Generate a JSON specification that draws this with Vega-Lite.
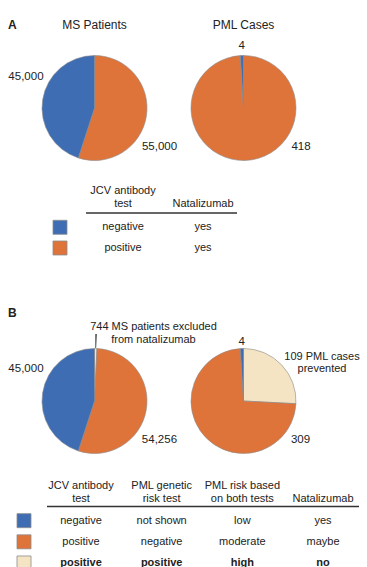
{
  "$schema": "https://vega.github.io/schema/vega-lite/v6.json",
  "padding": 0,
  "background": "white",
  "config": {
    "view": {"stroke": null},
    "text": {"font": "Liberation Sans", "color": "#222"}
  },
  "datasets": {
    "panelA": [{"panel": "A", "part": "title"}],
    "panelB": [{"panel": "B", "part": "title"}],
    "pieA1": [
      {"pie": "MS Patients", "part": "pie", "cat": "positive", "value": 55000, "label": "55,000", "order": 2},
      {"pie": "MS Patients", "part": "pie", "cat": "negative", "value": 45000, "label": "45,000", "order": 3}
    ],
    "pieA2": [
      {"pie": "PML Cases", "part": "pie", "cat": "positive", "value": 418, "label": "418", "order": 2},
      {"pie": "PML Cases", "part": "pie", "cat": "negative", "value": 4, "label": "4", "order": 3}
    ],
    "titlesA": [
      {"pie": "MS Patients", "part": "title"},
      {"pie": "PML Cases", "part": "title"}
    ],
    "pieB1": [
      {"pie": "MS Patients", "part": "pie", "cat": "high", "value": 744, "label": "744 MS patients excluded\nfrom natalizumab", "order": 1},
      {"pie": "MS Patients", "part": "pie", "cat": "positive", "value": 54256, "label": "54,256", "order": 2},
      {"pie": "MS Patients", "part": "pie", "cat": "negative", "value": 45000, "label": "45,000", "order": 3}
    ],
    "pieB2": [
      {"pie": "PML Cases", "part": "pie", "cat": "high", "value": 109, "label": "109 PML cases\nprevented", "order": 1},
      {"pie": "PML Cases", "part": "pie", "cat": "positive", "value": 309, "label": "309", "order": 2},
      {"pie": "PML Cases", "part": "pie", "cat": "negative", "value": 4, "label": "4", "order": 3}
    ],
    "tableA": [
      {"row": "h", "col": "JCV", "text": "JCV antibody\ntest"},
      {"row": "h", "col": "Nat", "text": "\nNatalizumab"},
      {"row": "r1", "col": "JCV", "text": "negative"},
      {"row": "r1", "col": "Nat", "text": "yes"},
      {"row": "r2", "col": "JCV", "text": "positive"},
      {"row": "r2", "col": "Nat", "text": "yes"}
    ],
    "ruleA": [{"row": "h", "from": "JCV", "to": "Nat"}],
    "swA": [
      {"row": "r1", "col": "swatch", "cat": "negative"},
      {"row": "r2", "col": "swatch", "cat": "positive"}
    ],
    "tableB": [
      {"row": "h", "col": "JCV", "text": "JCV antibody\ntest", "bold": false},
      {"row": "h", "col": "Gen", "text": "PML genetic\nrisk test", "bold": false},
      {"row": "h", "col": "Risk", "text": "PML risk based\non both tests", "bold": false},
      {"row": "h", "col": "Nat", "text": "\nNatalizumab", "bold": false},
      {"row": "r1", "col": "JCV", "text": "negative", "bold": false},
      {"row": "r1", "col": "Gen", "text": "not shown", "bold": false},
      {"row": "r1", "col": "Risk", "text": "low", "bold": false},
      {"row": "r1", "col": "Nat", "text": "yes", "bold": false},
      {"row": "r2", "col": "JCV", "text": "positive", "bold": false},
      {"row": "r2", "col": "Gen", "text": "negative", "bold": false},
      {"row": "r2", "col": "Risk", "text": "moderate", "bold": false},
      {"row": "r2", "col": "Nat", "text": "maybe", "bold": false},
      {"row": "r3", "col": "JCV", "text": "positive", "bold": true},
      {"row": "r3", "col": "Gen", "text": "positive", "bold": true},
      {"row": "r3", "col": "Risk", "text": "high", "bold": true},
      {"row": "r3", "col": "Nat", "text": "no", "bold": true}
    ],
    "ruleB": [{"row": "h", "from": "JCV", "to": "Nat"}],
    "swB": [
      {"row": "r1", "col": "swatch", "cat": "negative"},
      {"row": "r2", "col": "swatch", "cat": "positive"},
      {"row": "r3", "col": "swatch", "cat": "high"}
    ]
  },
  "spacing": 0,
  "bounds": "flush",
  "vconcat": [
    {
      "width": 367, "height": 175,
      "resolve": {"scale": {"x": "independent"}},
      "layer": [
        {
          "data": {"name": "panelA"},
          "mark": {"type": "text", "align": "left", "baseline": "alphabetic", "fontSize": 12, "fontWeight": "bold"},
          "encoding": {
            "x": {"field": "panel", "type": "nominal", "scale": {"type": "point", "domain": ["A"], "align": 0.0218}, "axis": null},
            "y": {"field": "part", "type": "nominal", "scale": {"type": "point", "domain": ["title", "pie"], "padding": 0.6076, "align": 0.2396}, "axis": null},
            "text": {"field": "panel", "type": "nominal"}
          }
        },
        {
          "data": {"name": "pieA1"},
          "encoding": {
            "x": {"field": "pie", "type": "nominal", "scale": {"type": "point", "domain": ["MS Patients", "PML Cases"], "padding": 0.7315, "align": 0.4335}, "axis": null},
            "y": {"field": "part", "type": "nominal", "scale": {"type": "point", "domain": ["title", "pie"], "padding": 0.6076, "align": 0.2396}, "axis": null},
            "theta": {"field": "value", "type": "quantitative", "stack": "normalize"},
            "order": {"field": "order", "type": "quantitative"},
            "detail": {"field": "cat", "type": "nominal"}
          },
          "layer": [
            {"mark": {"type": "arc", "radius": 52.5, "stroke": "#8c8c8c", "strokeWidth": 0.6},
             "encoding": {"color": {"field": "cat", "type": "nominal", "scale": {"domain": ["negative", "positive", "high"], "range": ["#3e6db4", "#df743a", "#f5e4c3"]}, "legend": null}}},
            {"mark": {"type": "text", "radius": 70, "dx": 0.6, "dy": -20.2, "fontSize": 11.5},
             "encoding": {"text": {"condition": {"test": "datum.cat === 'negative'", "field": "label", "type": "nominal"}, "value": ""}}},
            {"mark": {"type": "text", "radius": 70, "dx": -4.1, "dy": 28.2, "fontSize": 11.5},
             "encoding": {"text": {"condition": {"test": "datum.cat === 'positive'", "field": "label", "type": "nominal"}, "value": ""}}}
          ]
        },
        {
          "data": {"name": "pieA2"},
          "encoding": {
            "x": {"field": "pie", "type": "nominal", "scale": {"type": "point", "domain": ["MS Patients", "PML Cases"], "padding": 0.7315, "align": 0.4335}, "axis": null},
            "y": {"field": "part", "type": "nominal", "scale": {"type": "point", "domain": ["title", "pie"], "padding": 0.6076, "align": 0.2396}, "axis": null},
            "theta": {"field": "value", "type": "quantitative", "stack": "normalize"},
            "order": {"field": "order", "type": "quantitative"},
            "detail": {"field": "cat", "type": "nominal"}
          },
          "layer": [
            {"mark": {"type": "arc", "radius": 52.5, "stroke": "#8c8c8c", "strokeWidth": 0.6},
             "encoding": {"color": {"field": "cat", "type": "nominal", "scale": {"domain": ["negative", "positive", "high"], "range": ["#3e6db4", "#df743a", "#f5e4c3"]}, "legend": null}}},
            {"mark": {"type": "text", "radius": 63.5, "dx": 0, "dy": 1, "fontSize": 11.5},
             "encoding": {"text": {"condition": {"test": "datum.cat === 'negative'", "field": "label", "type": "nominal"}, "value": ""}}},
            {"mark": {"type": "text", "radius": 70, "dx": 55.4, "dy": -31.1, "fontSize": 11.5},
             "encoding": {"text": {"condition": {"test": "datum.cat === 'positive'", "field": "label", "type": "nominal"}, "value": ""}}}
          ]
        },
        {
          "data": {"name": "titlesA"},
          "mark": {"type": "text", "baseline": "alphabetic", "fontSize": 12},
          "encoding": {
            "x": {"field": "pie", "type": "nominal", "scale": {"type": "point", "domain": ["MS Patients", "PML Cases"], "padding": 0.7315, "align": 0.4335}, "axis": null},
            "y": {"field": "part", "type": "nominal", "scale": {"type": "point", "domain": ["title", "pie"], "padding": 0.6076, "align": 0.2396}, "axis": null},
            "text": {"field": "pie", "type": "nominal"}
          }
        }
      ]
    },
    {
      "width": 367, "height": 103.5,
      "resolve": {"scale": {"x": "independent"}},
      "layer": [
        {
          "data": {"name": "swA"},
          "mark": {"type": "square", "size": 196, "filled": true, "opacity": 1, "stroke": "#8c8c8c", "strokeWidth": 0.8},
          "encoding": {
            "x": {"field": "col", "type": "nominal", "scale": {"type": "point", "domain": ["swatch"], "align": 0.1635}, "axis": null},
            "y": {"field": "row", "type": "nominal", "scale": {"type": "band", "domain": ["h", "r1", "r2"], "paddingInner": 0, "paddingOuter": 1, "align": 0.368}, "axis": null},
            "color": {"field": "cat", "type": "nominal", "scale": {"domain": ["negative", "positive", "high"], "range": ["#3e6db4", "#df743a", "#f5e4c3"]}, "legend": null}
          }
        },
        {
          "data": {"name": "ruleA"},
          "mark": {"type": "rule", "color": "#333", "strokeWidth": 1.3, "xOffset": -37, "x2Offset": 34},
          "encoding": {
            "x": {"field": "from", "type": "nominal", "scale": {"type": "point", "domain": ["JCV", "Nat", "_a", "_b"], "padding": 0.794, "align": 0.9685}, "axis": null},
            "x2": {"field": "to"},
            "y": {"field": "row", "type": "nominal", "bandPosition": 0.81, "scale": {"type": "band", "domain": ["h", "r1", "r2"], "paddingInner": 0, "paddingOuter": 1, "align": 0.368}, "axis": null}
          }
        },
        {
          "data": {"name": "tableA"},
          "transform": [{"filter": "datum.row === 'h'"}],
          "mark": {"type": "text", "baseline": "alphabetic", "lineBreak": "\n", "lineHeight": 13, "fontSize": 11},
          "encoding": {
            "x": {"field": "col", "type": "nominal", "scale": {"type": "point", "domain": ["JCV", "Nat", "_a", "_b"], "padding": 0.794, "align": 0.9685}, "axis": null},
            "y": {"field": "row", "type": "nominal", "bandPosition": -0.085, "scale": {"type": "band", "domain": ["h", "r1", "r2"], "paddingInner": 0, "paddingOuter": 1, "align": 0.368}, "axis": null},
            "text": {"field": "text", "type": "nominal"}
          }
        },
        {
          "data": {"name": "tableA"},
          "transform": [{"filter": "datum.row !== 'h'"}],
          "mark": {"type": "text", "baseline": "middle", "fontSize": 11},
          "encoding": {
            "x": {"field": "col", "type": "nominal", "scale": {"type": "point", "domain": ["JCV", "Nat", "_a", "_b"], "padding": 0.794, "align": 0.9685}, "axis": null},
            "y": {"field": "row", "type": "nominal", "bandPosition": 0.5, "scale": {"type": "band", "domain": ["h", "r1", "r2"], "paddingInner": 0, "paddingOuter": 1, "align": 0.368}, "axis": null},
            "text": {"field": "text", "type": "nominal"}
          }
        }
      ]
    },
    {
      "width": 367, "height": 191.5,
      "resolve": {"scale": {"x": "independent"}},
      "layer": [
        {
          "data": {"name": "panelB"},
          "mark": {"type": "text", "align": "left", "baseline": "alphabetic", "fontSize": 12, "fontWeight": "bold"},
          "encoding": {
            "x": {"field": "panel", "type": "nominal", "scale": {"type": "point", "domain": ["B"], "align": 0.0218}, "axis": null},
            "y": {"field": "part", "type": "nominal", "scale": {"type": "point", "domain": ["title", "pie"], "padding": 0.6467, "align": 0.3009}, "axis": null},
            "text": {"field": "panel", "type": "nominal"}
          }
        },
        {
          "data": {"name": "pieB1"},
          "encoding": {
            "x": {"field": "pie", "type": "nominal", "scale": {"type": "point", "domain": ["MS Patients", "PML Cases"], "padding": 0.7315, "align": 0.4335}, "axis": null},
            "y": {"field": "part", "type": "nominal", "scale": {"type": "point", "domain": ["title", "pie"], "padding": 0.6467, "align": 0.3009}, "axis": null},
            "theta": {"field": "value", "type": "quantitative", "stack": "normalize"},
            "order": {"field": "order", "type": "quantitative"},
            "detail": {"field": "cat", "type": "nominal"}
          },
          "layer": [
            {"mark": {"type": "arc", "radius": 52.5, "stroke": "#8c8c8c", "strokeWidth": 0.6},
             "encoding": {"color": {"field": "cat", "type": "nominal", "scale": {"domain": ["negative", "positive", "high"], "range": ["#3e6db4", "#df743a", "#f5e4c3"]}, "legend": null}}},
            {"mark": {"type": "arc", "radius": 67, "radius2": 53, "padAngle": 0.02, "strokeWidth": 0},
             "encoding": {"color": {"condition": {"test": "datum.cat === 'high'", "value": "#333333"}, "value": "transparent"}}},
            {"mark": {"type": "text", "radius": 70, "dx": 0.6, "dy": -20.6, "fontSize": 11.5},
             "encoding": {"text": {"condition": {"test": "datum.cat === 'negative'", "field": "label", "type": "nominal"}, "value": ""}}},
            {"mark": {"type": "text", "radius": 70, "dx": -3.9, "dy": 26.8, "fontSize": 11.5},
             "encoding": {"text": {"condition": {"test": "datum.cat === 'positive'", "field": "label", "type": "nominal"}, "value": ""}}},
            {"mark": {"type": "text", "radius": 71, "dx": 57.3, "dy": -0.5, "fontSize": 11, "baseline": "alphabetic", "lineBreak": "\n", "lineHeight": 13.4},
             "encoding": {"text": {"condition": {"test": "datum.cat === 'high'", "field": "label", "type": "nominal"}, "value": ""}}}
          ]
        },
        {
          "data": {"name": "pieB2"},
          "encoding": {
            "x": {"field": "pie", "type": "nominal", "scale": {"type": "point", "domain": ["MS Patients", "PML Cases"], "padding": 0.7315, "align": 0.4335}, "axis": null},
            "y": {"field": "part", "type": "nominal", "scale": {"type": "point", "domain": ["title", "pie"], "padding": 0.6467, "align": 0.3009}, "axis": null},
            "theta": {"field": "value", "type": "quantitative", "stack": "normalize"},
            "order": {"field": "order", "type": "quantitative"},
            "detail": {"field": "cat", "type": "nominal"}
          },
          "layer": [
            {"mark": {"type": "arc", "radius": 52.5, "stroke": "#8c8c8c", "strokeWidth": 0.6},
             "encoding": {"color": {"field": "cat", "type": "nominal", "scale": {"domain": ["negative", "positive", "high"], "range": ["#3e6db4", "#df743a", "#f5e4c3"]}, "legend": null}}},
            {"mark": {"type": "text", "radius": 60, "dx": 0, "dy": 0.9, "fontSize": 11.5},
             "encoding": {"text": {"condition": {"test": "datum.cat === 'negative'", "field": "label", "type": "nominal"}, "value": ""}}},
            {"mark": {"type": "text", "radius": 70, "dx": 106.3, "dy": -10.3, "fontSize": 11.5},
             "encoding": {"text": {"condition": {"test": "datum.cat === 'positive'", "field": "label", "type": "nominal"}, "value": ""}}},
            {"mark": {"type": "text", "radius": 80, "dx": 20.5, "dy": 14.5, "fontSize": 11, "baseline": "alphabetic", "lineBreak": "\n", "lineHeight": 12},
             "encoding": {"text": {"condition": {"test": "datum.cat === 'high'", "field": "label", "type": "nominal"}, "value": ""}}}
          ]
        }
      ]
    },
    {
      "width": 367, "height": 97,
      "resolve": {"scale": {"x": "independent"}},
      "layer": [
        {
          "data": {"name": "swB"},
          "mark": {"type": "square", "size": 196, "filled": true, "opacity": 1, "stroke": "#8c8c8c", "strokeWidth": 0.8},
          "encoding": {
            "x": {"field": "col", "type": "nominal", "scale": {"type": "point", "domain": ["swatch"], "align": 0.0654}, "axis": null},
            "y": {"field": "row", "type": "nominal", "scale": {"type": "band", "domain": ["h", "r1", "r2", "r3"], "paddingInner": 0, "paddingOuter": 0.2931, "align": 0.9637}, "axis": null},
            "color": {"field": "cat", "type": "nominal", "scale": {"domain": ["negative", "positive", "high"], "range": ["#3e6db4", "#df743a", "#f5e4c3"]}, "legend": null}
          }
        },
        {
          "data": {"name": "ruleB"},
          "mark": {"type": "rule", "color": "#333", "strokeWidth": 1.3, "xOffset": -34, "x2Offset": 36},
          "encoding": {
            "x": {"field": "from", "type": "nominal", "scale": {"type": "point", "domain": ["JCV", "Gen", "Risk", "Nat"], "padding": 0.7747, "align": 0.648}, "axis": null},
            "x2": {"field": "to"},
            "y": {"field": "row", "type": "nominal", "bandPosition": 0.83, "scale": {"type": "band", "domain": ["h", "r1", "r2", "r3"], "paddingInner": 0, "paddingOuter": 0.2931, "align": 0.9637}, "axis": null}
          }
        },
        {
          "data": {"name": "tableB"},
          "transform": [{"filter": "datum.row === 'h'"}],
          "mark": {"type": "text", "baseline": "alphabetic", "lineBreak": "\n", "lineHeight": 13, "fontSize": 11},
          "encoding": {
            "x": {"field": "col", "type": "nominal", "scale": {"type": "point", "domain": ["JCV", "Gen", "Risk", "Nat"], "padding": 0.7747, "align": 0.648}, "axis": null},
            "y": {"field": "row", "type": "nominal", "bandPosition": -0.02, "scale": {"type": "band", "domain": ["h", "r1", "r2", "r3"], "paddingInner": 0, "paddingOuter": 0.2931, "align": 0.9637}, "axis": null},
            "text": {"field": "text", "type": "nominal"}
          }
        },
        {
          "data": {"name": "tableB"},
          "transform": [{"filter": "datum.row !== 'h' && !datum.bold"}],
          "mark": {"type": "text", "baseline": "middle", "fontSize": 11},
          "encoding": {
            "x": {"field": "col", "type": "nominal", "scale": {"type": "point", "domain": ["JCV", "Gen", "Risk", "Nat"], "padding": 0.7747, "align": 0.648}, "axis": null},
            "y": {"field": "row", "type": "nominal", "bandPosition": 0.5, "scale": {"type": "band", "domain": ["h", "r1", "r2", "r3"], "paddingInner": 0, "paddingOuter": 0.2931, "align": 0.9637}, "axis": null},
            "text": {"field": "text", "type": "nominal"}
          }
        },
        {
          "data": {"name": "tableB"},
          "transform": [{"filter": "datum.bold"}],
          "mark": {"type": "text", "baseline": "middle", "fontSize": 11, "fontWeight": "bold"},
          "encoding": {
            "x": {"field": "col", "type": "nominal", "scale": {"type": "point", "domain": ["JCV", "Gen", "Risk", "Nat"], "padding": 0.7747, "align": 0.648}, "axis": null},
            "y": {"field": "row", "type": "nominal", "bandPosition": 0.5, "scale": {"type": "band", "domain": ["h", "r1", "r2", "r3"], "paddingInner": 0, "paddingOuter": 0.2931, "align": 0.9637}, "axis": null},
            "text": {"field": "text", "type": "nominal"}
          }
        }
      ]
    }
  ]
}
